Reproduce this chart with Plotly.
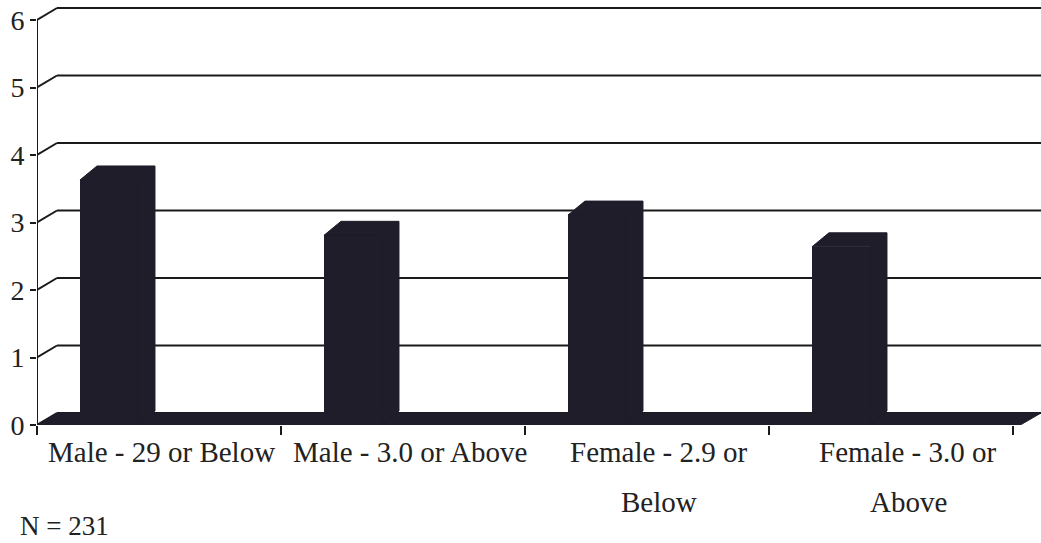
import plotly.graph_objects as go

# ---- data ----
categories = ["Male - 29 or Below", "Male - 3.0 or Above", "Female - 2.9 or Below", "Female - 3.0 or Above"]
label_lines = [["Male - 29 or Below"], ["Male - 3.0 or Above"], ["Female - 2.9 or", "Below"], ["Female - 3.0 or", "Above"]]
values = [3.63, 2.81, 3.11, 2.64]
y_ticks = [0, 1, 2, 3, 4, 5, 6]
note = "N = 231"

# ---- geometry (pixel based) ----
W, H = 1041, 543
ML, MR, MT, MB = 37, 0, 5, 118
PX_PER_CAT = 244.0
PX_PER_UNIT = 67.5
plot_w = W - ML - MR
plot_h = H - MT - MB
x_range = [-0.5, -0.5 + plot_w / PX_PER_CAT]
y_range = [0, plot_h / PX_PER_UNIT]

DX = 20 / PX_PER_CAT      # wall depth offset (x)
DY = 12 / PX_PER_UNIT     # wall depth offset (y)
BDX = 17 / PX_PER_CAT     # bar depth offset
BDY = 14 / PX_PER_UNIT
BW = 58 / PX_PER_CAT      # bar front face width
BOFF = -0.205             # bar centre relative to category centre
FLOOR_END = 3.53

DARK = "#1e1d29"
LINE = "#1a1a1a"
FONT = "Liberation Serif"
FS = 29

fig = go.Figure()

# floor slab
fig.add_trace(go.Scatter(
    x=[x_range[0], FLOOR_END, x_range[1], x_range[0] + DX, x_range[0]],
    y=[0, 0, DY, DY, 0],
    fill="toself", fillcolor=DARK, mode="lines", line=dict(color=DARK, width=1),
    hoverinfo="skip", showlegend=False))

xs = [i + BOFF for i in range(len(values))]

# bar front faces
fig.add_trace(go.Bar(
    x=xs, y=values, width=BW, base=0,
    marker=dict(color=DARK, line=dict(width=0)),
    showlegend=False, hoverinfo="skip"))

# bar top + side faces
px, py = [], []
for c, v in zip(xs, values):
    xl, xr = c - BW / 2, c + BW / 2
    px += [xl, xl + BDX, xr + BDX, xr + BDX, xr, xr, xl, None]
    py += [v, v + BDY, v + BDY, BDY, 0, v, v, None]
fig.add_trace(go.Scatter(
    x=px, y=py, fill="toself", fillcolor=DARK, mode="lines",
    line=dict(color=DARK, width=1), hoverinfo="skip", showlegend=False))

shapes = []
# y axis line (front)
shapes.append(dict(type="line", xref="x", yref="y", x0=x_range[0], x1=x_range[0],
                   y0=0, y1=max(y_ticks), line=dict(color=LINE, width=2), layer="above"))
# back-wall gridlines with diagonal connectors
for v in y_ticks:
    shapes.append(dict(type="line", xref="x", yref="y", x0=x_range[0], x1=x_range[0] + DX,
                       y0=v, y1=v + DY, line=dict(color=LINE, width=2), layer="below"))
    shapes.append(dict(type="line", xref="x", yref="y", x0=x_range[0] + DX, x1=x_range[1],
                       y0=v + DY, y1=v + DY, line=dict(color=LINE, width=2), layer="below"))

annotations = []
for i, lines in enumerate(label_lines):
    for j, t in enumerate(lines):
        annotations.append(dict(text=t, x=i + 0.01 + 0.02 * i, xref="x", y=-(27 + 50 * j) / plot_h,
                                yref="paper", yanchor="middle", xanchor="center", showarrow=False,
                                font=dict(family=FONT, size=FS, color="#222")))
annotations.append(dict(text=note, x=-19 / plot_w, xref="paper", xanchor="left",
                        y=-101 / plot_h, yref="paper", yanchor="middle", showarrow=False,
                        font=dict(family=FONT, size=FS - 2, color="#222")))

fig.update_layout(
    width=W, height=H,
    margin=dict(l=ML, r=MR, t=MT, b=MB, autoexpand=False),
    paper_bgcolor="white", plot_bgcolor="white",
    shapes=shapes, annotations=annotations,
    xaxis=dict(range=x_range, showgrid=False, zeroline=False, showline=False,
               tickvals=[-0.5, 0.5, 1.5, 2.5, 3.5], ticktext=["", "", "", "", ""],
               ticks="outside", ticklen=9, tickwidth=2, tickcolor=LINE),
    yaxis=dict(range=y_range, showgrid=False, zeroline=False, showline=False,
               tickvals=y_ticks, ticks="outside", ticklen=6, tickwidth=2, tickcolor=LINE,
               ticklabelstandoff=0,
               tickfont=dict(family=FONT, size=FS - 1, color="#222")),
    bargap=0,
)

fig.write_html("out.html", config={"displayModeBar": False},
               post_script="document.body.style.margin='0';document.body.style.overflow='hidden';")
